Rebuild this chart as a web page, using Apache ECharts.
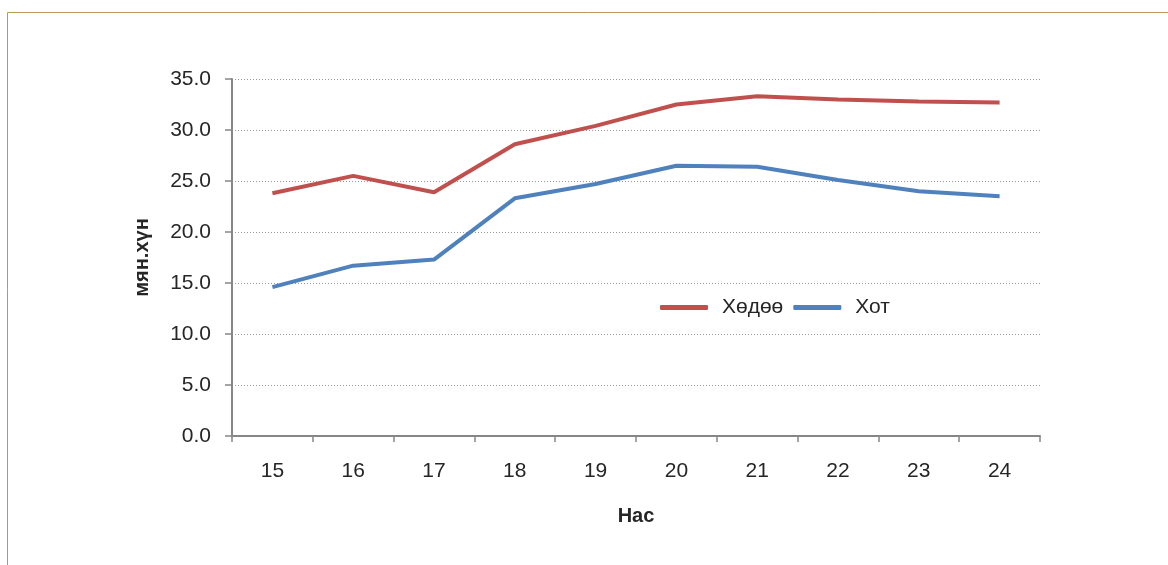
<!DOCTYPE html>
<html>
<head>
<meta charset="utf-8">
<script src="https://cdn.jsdelivr.net/npm/echarts@6/dist/echarts.min.js"></script>
<style>
html, body { margin: 0; padding: 0; background: #fff; }
#chart { width: 1168px; height: 565px; }
</style>
</head>
<body>
<div id="chart"></div>
<script>
// ages on the x axis
const ages = ['15', '16', '17', '18', '19', '20', '21', '22', '23', '24'];
// thousand persons
const rural = [23.8, 25.5, 23.9, 28.6, 30.4, 32.5, 33.3, 33.0, 32.8, 32.7];
const urban = [14.6, 16.7, 17.3, 23.3, 24.7, 26.5, 26.4, 25.1, 24.0, 23.5];
const seriesNames = ['Хөдөө', 'Хот'];

const chart = echarts.init(document.getElementById('chart'));
const textColor = '#262626';
const axisColor = '#868686';

chart.setOption({
    animation: false,
    textStyle: { fontFamily: 'Liberation Sans, Arial, sans-serif' },
    graphic: [{
        type: 'rect',
        shape: { x: 7.5, y: 12.5, width: 1300, height: 700 },
        style: { fill: 'none', stroke: '#B8995A', lineWidth: 1 },
        silent: true
    }],
    grid: { left: 232, right: 128, top: 79, bottom: 129 },
    legend: {
        left: 655,
        top: 292,
        icon: 'roundRect',
        itemWidth: 48,
        itemHeight: 5,
        itemGap: 10,
        textStyle: { fontSize: 21, color: textColor, padding: [0, 0, 0, 9] },
        data: seriesNames
    },
    xAxis: {
        type: 'category',
        data: ages,
        boundaryGap: true,
        name: 'Нас',
        nameLocation: 'middle',
        nameGap: 70,
        nameTextStyle: { fontSize: 20, fontWeight: 'bold', color: textColor },
        axisLine: { lineStyle: { color: axisColor, width: 2 } },
        axisTick: { show: true, length: 6, lineStyle: { color: axisColor, width: 1.5 } },
        axisLabel: { fontSize: 21, color: textColor, margin: 25 }
    },
    yAxis: {
        type: 'value',
        min: 0,
        max: 35,
        interval: 5,
        name: 'мян.хүн',
        nameLocation: 'middle',
        nameGap: 80,
        nameTextStyle: { fontSize: 20, fontWeight: 'bold', color: textColor },
        axisLine: { show: true, lineStyle: { color: axisColor, width: 2 } },
        axisTick: { show: true, length: 7, lineStyle: { color: axisColor, width: 1.5 } },
        axisLabel: {
            fontSize: 21, color: textColor, margin: 21,
            formatter: v => v.toFixed(1)
        },
        splitLine: { show: true, lineStyle: { color: '#9a9a9a', width: 1, type: [1, 2] } }
    },
    series: [
        {
            name: seriesNames[0],
            type: 'line',
            data: rural,
            symbol: 'none',
            color: '#C0504D',
            lineStyle: { width: 4, color: '#C0504D' }
        },
        {
            name: seriesNames[1],
            type: 'line',
            data: urban,
            symbol: 'none',
            color: '#4F81BD',
            lineStyle: { width: 4, color: '#4F81BD' }
        }
    ]
});
</script>
</body>
</html>
